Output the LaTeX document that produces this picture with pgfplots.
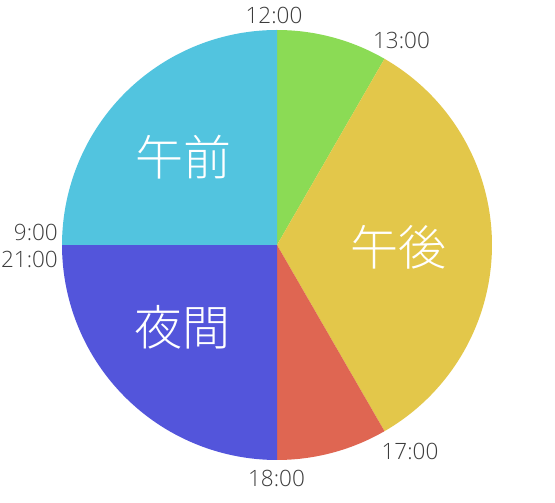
\documentclass[border=0pt]{standalone}
\usepackage{pgfplots}
\pgfplotsset{compat=1.18}
\usepackage{fontspec}
\setmainfont{Noto Sans CJK JP}
\newfontfamily\cjklight{Noto Sans CJK JP Light}
\newfontfamily\lablight{Open Sans Light}
\definecolor{cgreen}{RGB}{139,219,85}
\definecolor{cyellow}{RGB}{227,199,74}
\definecolor{cred}{RGB}{223,102,82}
\definecolor{cblue}{RGB}{83,85,219}
\definecolor{ccyan}{RGB}{82,196,223}
\definecolor{labgray}{RGB}{60,60,60}
% segments: start hour, end hour (clock), angle = 90 - 30*(h-12)
\begin{document}
\begin{tikzpicture}
\useasboundingbox (0,0) rectangle (555pt,503pt);
\begin{axis}[
  at={(62pt,43pt)}, anchor=south west,
  scale only axis, width=430pt, height=430pt,
  xmin=-1, xmax=1, ymin=-1, ymax=1,
  hide axis, clip=false,
]
% 12:00-13:00
\addplot[fill=cgreen, draw=none, domain=60:90, samples=40, variable=\t] ({cos(\t)},{sin(\t)}) -- (0,0) -- cycle;
% 13:00-17:00
\addplot[fill=cyellow, draw=none, domain=-60:60, samples=120, variable=\t] ({cos(\t)},{sin(\t)}) -- (0,0) -- cycle;
% 17:00-18:00
\addplot[fill=cred, draw=none, domain=-90:-60, samples=40, variable=\t] ({cos(\t)},{sin(\t)}) -- (0,0) -- cycle;
% 18:00-21:00
\addplot[fill=cblue, draw=none, domain=-180:-90, samples=100, variable=\t] ({cos(\t)},{sin(\t)}) -- (0,0) -- cycle;
% 09:00-12:00
\addplot[fill=ccyan, draw=none, domain=90:180, samples=100, variable=\t] ({cos(\t)},{sin(\t)}) -- (0,0) -- cycle;
\end{axis}
\begin{scope}[every node/.style={inner sep=0pt, font=\lablight\fontsize{22.5}{26}\selectfont, text=labgray}]
\node at (274pt,487.5pt) {12:00};
\node at (401.5pt,463pt) {13:00};
\node[anchor=east] at (58pt,271pt) {9:00};
\node[anchor=east] at (58pt,244pt) {21:00};
\node at (410pt,52pt) {17:00};
\node at (276.5pt,24.5pt) {18:00};
\end{scope}
\begin{scope}[every node/.style={inner sep=0pt, font=\cjklight\fontsize{48}{52}\selectfont, text=white}]
\node at (183pt,346pt) {午前};
\node at (398pt,256pt) {午後};
\node at (182pt,176pt) {夜間};
\end{scope}
\end{tikzpicture}
\end{document}
